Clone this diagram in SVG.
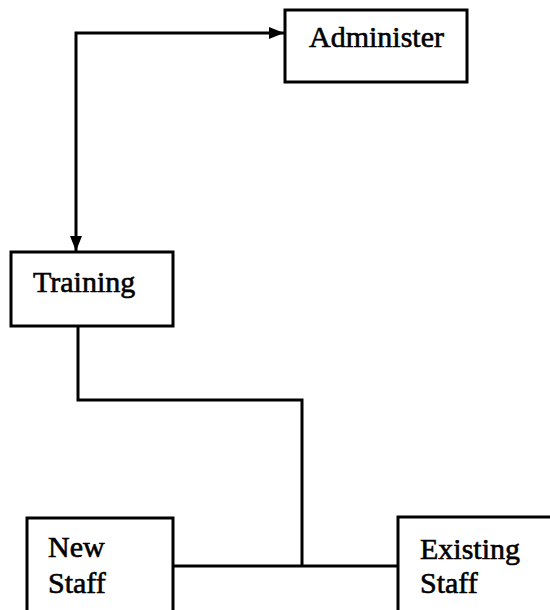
<svg xmlns="http://www.w3.org/2000/svg" width="550" height="610" viewBox="0 0 550 610">
<style>
.box{fill:#fff;stroke:#000;stroke-width:3}
.lbl{font-family:"Liberation Serif","Times New Roman",serif;font-size:30px;fill:#000;stroke:#000;stroke-width:0.6}
.conn{fill:none;stroke:#000;stroke-width:3}
</style>
<defs>
<marker id="ah" viewBox="0 0 15 12" refX="15" refY="6" markerWidth="15" markerHeight="12" markerUnits="userSpaceOnUse" orient="auto">
<path d="M0,0 L15,6 L0,12 Z" fill="#000"/>
</marker>
<marker id="ahs" viewBox="0 0 15 12" refX="0" refY="6" markerWidth="15" markerHeight="12" markerUnits="userSpaceOnUse" orient="auto">
<path d="M15,0 L0,6 L15,12 Z" fill="#000"/>
</marker>
</defs>
<g id="connectors">
<path class="conn" d="M284,33 L76,33 L76,251" marker-start="url(#ahs)" marker-end="url(#ah)"/>
<path class="conn" d="M78,326 L78,400 L302,400 L302,566"/>
<path class="conn" d="M173,566 L398,566"/>
</g>
<g id="administer">
<rect class="box" x="285" y="10" width="182" height="72"/>
<text class="lbl" x="309" y="47">Administer</text>
</g>
<g id="training">
<rect class="box" x="11" y="252" width="162" height="74"/>
<text class="lbl" x="33" y="292">Training</text>
</g>
<g id="new-staff">
<rect class="box" x="27" y="518" width="146" height="100"/>
<text class="lbl" x="48" y="557">New</text>
<text class="lbl" x="48" y="593">Staff</text>
</g>
<g id="existing-staff">
<rect class="box" x="398" y="517" width="160" height="100"/>
<text class="lbl" x="420" y="559" font-size="29">Existing</text>
<text class="lbl" x="420" y="593" font-size="29">Staff</text>
</g>
</svg>
